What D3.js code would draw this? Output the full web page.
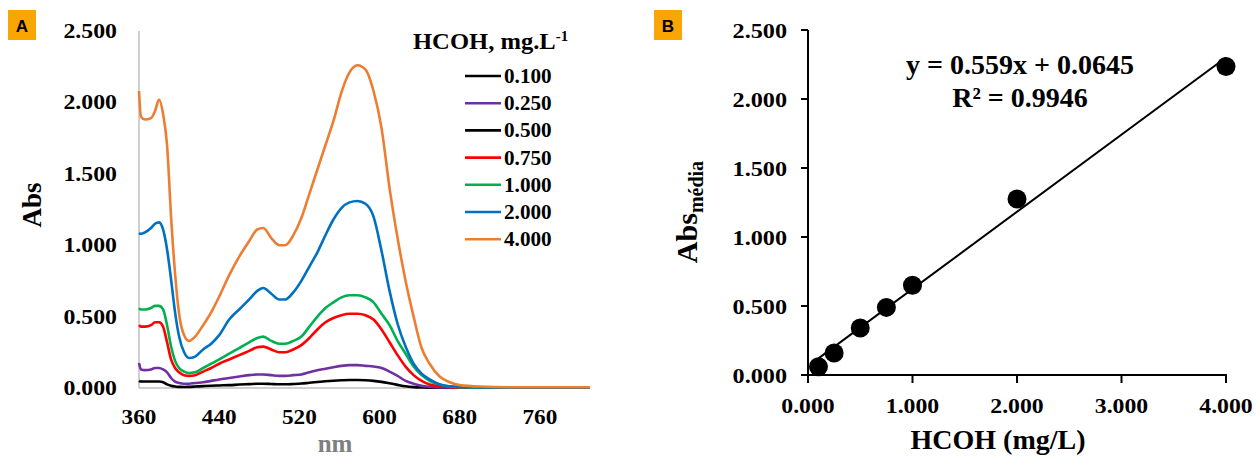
<!DOCTYPE html>
<html>
<head>
<meta charset="utf-8">
<script src="https://cdn.jsdelivr.net/npm/d3@7"></script>
<style>
  body { margin: 0; background: #fff; }
  svg { display: block; font-family: "Liberation Serif", "Times New Roman", serif; font-weight: bold; }
</style>
</head>
<body>
<div id="chart"></div>
<script>
// ---- Panel A data: UV-Vis spectra ----
const wavelengths = [360, 362, 366, 372, 376, 380, 384, 388, 392, 396, 400, 405, 410, 416, 424, 432, 440,
  450, 460, 470, 478, 484, 492, 500, 506, 514, 522, 530, 538, 546, 554, 562, 570, 578, 586, 594, 602,
  610, 618, 626, 634, 642, 650, 660, 670, 680, 700, 740, 780, 810];

const abs0100 = [0.05, 0.045, 0.045, 0.045, 0.046, 0.045, 0.04, 0.025, 0.015, 0.01, 0.008, 0.007, 0.008, 0.01, 0.013, 0.016, 0.018,
  0.02, 0.024, 0.027, 0.03, 0.03, 0.028, 0.026, 0.026, 0.028, 0.031, 0.037, 0.042, 0.047, 0.051, 0.054, 0.056, 0.056, 0.054, 0.05, 0.043,
  0.033, 0.022, 0.012, 0.006, 0.003, 0.002, 0.002, 0.002, 0.002, 0.002, 0.002, 0.002, 0.002];
const abs0250 = [0.175, 0.13, 0.125, 0.13, 0.14, 0.14, 0.13, 0.11, 0.07, 0.045, 0.035, 0.03, 0.03, 0.035, 0.04, 0.05, 0.06,
  0.07, 0.08, 0.09, 0.095, 0.095, 0.09, 0.085, 0.085, 0.09, 0.095, 0.11, 0.125, 0.135, 0.145, 0.155, 0.16, 0.16, 0.155, 0.15, 0.14,
  0.115, 0.085, 0.05, 0.03, 0.015, 0.008, 0.004, 0.003, 0.003, 0.003, 0.003, 0.003, 0.003];
// 0.500 mg/L curve is not visible in the figure (only in the legend)
const abs0500 = [];
const abs0750 = [0.44, 0.43, 0.43, 0.44, 0.46, 0.46, 0.43, 0.32, 0.20, 0.14, 0.11, 0.09, 0.085, 0.09, 0.115, 0.14, 0.17,
  0.20, 0.23, 0.26, 0.285, 0.29, 0.27, 0.25, 0.25, 0.27, 0.30, 0.35, 0.41, 0.46, 0.49, 0.51, 0.52, 0.52, 0.51, 0.48, 0.41,
  0.32, 0.23, 0.15, 0.09, 0.05, 0.025, 0.012, 0.006, 0.004, 0.003, 0.003, 0.003, 0.003];
const abs1000 = [0.56, 0.55, 0.55, 0.56, 0.575, 0.575, 0.55, 0.44, 0.29, 0.19, 0.14, 0.115, 0.105, 0.11, 0.14, 0.17, 0.20,
  0.24, 0.28, 0.32, 0.35, 0.36, 0.33, 0.31, 0.31, 0.33, 0.36, 0.43, 0.50, 0.56, 0.60, 0.635, 0.65, 0.65, 0.635, 0.60, 0.52,
  0.44, 0.33, 0.24, 0.15, 0.09, 0.05, 0.025, 0.01, 0.006, 0.004, 0.004, 0.004, 0.004];
const abs2000 = [1.085, 1.08, 1.09, 1.12, 1.15, 1.16, 1.11, 0.97, 0.76, 0.53, 0.36, 0.25, 0.21, 0.22, 0.27, 0.31, 0.37,
  0.48, 0.55, 0.62, 0.68, 0.70, 0.66, 0.62, 0.62, 0.67, 0.75, 0.85, 0.95, 1.07, 1.18, 1.26, 1.30, 1.31, 1.29, 1.20, 0.96,
  0.68, 0.45, 0.29, 0.17, 0.10, 0.06, 0.025, 0.012, 0.008, 0.005, 0.003, 0.003, 0.003];
const abs4000 = [2.08, 1.90, 1.88, 1.89, 1.94, 2.02, 1.92, 1.70, 1.20, 0.80, 0.52, 0.37, 0.33, 0.36, 0.44, 0.53, 0.64,
  0.79, 0.92, 1.03, 1.11, 1.12, 1.05, 1.00, 1.00, 1.07, 1.19, 1.36, 1.53, 1.70, 1.87, 2.07, 2.21, 2.26, 2.23, 2.08, 1.82,
  1.40, 1.05, 0.75, 0.50, 0.28, 0.17, 0.08, 0.04, 0.02, 0.01, 0.005, 0.005, 0.005];

const seriesLabels = ["0.100", "0.250", "0.500", "0.750", "1.000", "2.000", "4.000"];
const seriesValues = [abs0100, abs0250, abs0500, abs0750, abs1000, abs2000, abs4000];
const seriesColors = ["#000000", "#7030A0", "#000000", "#FF0000", "#00B050", "#0070C0", "#ED7D31"];

const nmTicks = [360, 440, 520, 600, 680, 760];
const absTicksA = [0, 0.5, 1.0, 1.5, 2.0, 2.5];

// ---- Panel B data: calibration curve ----
const concentrations = [0.1, 0.25, 0.5, 0.75, 1.0, 2.0, 4.0];
const absMean = [0.06, 0.16, 0.34, 0.49, 0.65, 1.275, 2.235];
const slope = 0.559;
const intercept = 0.0645;
const concTicks = [0, 1, 2, 3, 4];
const absTicksB = [0, 0.5, 1.0, 1.5, 2.0, 2.5];

const fmt = d3.format(".3f");

const svg = d3.select("#chart").append("svg").attr("width", 1256).attr("height", 457);
svg.append("rect").attr("width", 1256).attr("height", 457).attr("fill", "#fff");

// text that is a bit wider than the font, like the original figure
function wideText(g, x, y, str, anchor, size, sx) {
  return g
    .append("text")
    .attr("transform", `translate(${x},${y}) scale(${sx},1)`)
    .attr("text-anchor", anchor)
    .style("font-size", size + "px")
    .text(str);
}

// Panel tag (A / B)
function panelTag(x, y, letter) {
  svg.append("rect").attr("x", x).attr("y", y).attr("width", 28).attr("height", 30).attr("fill", "#F9A602");
  svg
    .append("text")
    .attr("x", x + 14)
    .attr("y", y + 21.5)
    .attr("text-anchor", "middle")
    .style("font-family", "'Liberation Sans', Arial, sans-serif")
    .style("font-size", "17px")
    .text(letter);
}

// =================== Panel A ===================
const gA = svg.append("g");
const xA = d3.scaleLinear().domain([360, 810]).range([139, 590]);
const yA = d3.scaleLinear().domain([0, 2.5]).range([388, 31]);

panelTag(8, 10, "A");

// axis lines (light gray, no ticks)
gA.append("line").attr("x1", xA(360)).attr("x2", xA(360)).attr("y1", yA(2.5)).attr("y2", yA(0))
  .attr("stroke", "#BFBFBF").attr("stroke-width", 1.5);
gA.append("line").attr("x1", xA(360)).attr("x2", xA(810)).attr("y1", yA(0)).attr("y2", yA(0))
  .attr("stroke", "#BFBFBF").attr("stroke-width", 1.5);

absTicksA.forEach((t) => wideText(gA, 117, yA(t) + 7, fmt(t), "end", 20, 1.19));
nmTicks.forEach((t) => wideText(gA, xA(t), 424, t, "middle", 20, 1.16));

gA.append("text")
  .attr("transform", `translate(41,205) rotate(-90)`)
  .attr("text-anchor", "middle")
  .style("font-size", "27px")
  .text("Abs");

gA.append("text")
  .attr("x", 335)
  .attr("y", 452)
  .attr("text-anchor", "middle")
  .attr("fill", "#808080")
  .style("font-size", "25px")
  .text("nm");

// spectra
const lineA = d3
  .line()
  .x((d) => xA(d[0]))
  .y((d) => yA(d[1]))
  .curve(d3.curveMonotoneX);

seriesValues.forEach((vals, i) => {
  if (!vals.length) return;
  const pts = vals.map((v, j) => [wavelengths[j], v]);
  gA.append("path")
    .attr("d", lineA(pts))
    .attr("fill", "none")
    .attr("stroke", seriesColors[i])
    .attr("stroke-width", 2.6)
    .attr("stroke-linejoin", "round");
});

// legend
const legTitle = gA
  .append("text")
  .attr("transform", "translate(413,49) scale(1.07,1)")
  .style("font-size", "23px");
legTitle.append("tspan").text("HCOH, mg.L");
legTitle.append("tspan").attr("dy", -8).style("font-size", "14px").text("-1");

seriesLabels.forEach((lab, i) => {
  const ly = 76 + i * 27.2;
  gA.append("line").attr("x1", 465).attr("x2", 501).attr("y1", ly).attr("y2", ly)
    .attr("stroke", seriesColors[i]).attr("stroke-width", 2.6);
  wideText(gA, 504, ly + 7, lab, "start", 20, 1.06);
});

// =================== Panel B ===================
const gB = svg.append("g");
const xB = d3.scaleLinear().domain([0, 4]).range([808, 1226]);
const yB = d3.scaleLinear().domain([0, 2.5]).range([375, 30]);

panelTag(654, 10, "B");

gB.append("line").attr("x1", xB(0)).attr("x2", xB(0)).attr("y1", yB(2.5)).attr("y2", yB(0) + 1)
  .attr("stroke", "#000").attr("stroke-width", 2);
gB.append("line").attr("x1", xB(0) - 1).attr("x2", xB(4) + 1).attr("y1", yB(0)).attr("y2", yB(0))
  .attr("stroke", "#000").attr("stroke-width", 2);

absTicksB.forEach((t) => {
  gB.append("line").attr("x1", xB(0) - 7).attr("x2", xB(0)).attr("y1", yB(t)).attr("y2", yB(t))
    .attr("stroke", "#000").attr("stroke-width", 2);
  wideText(gB, 787, yB(t) + 7.5, fmt(t), "end", 22, 1.1);
});
concTicks.forEach((t) => {
  gB.append("line").attr("x1", xB(t)).attr("x2", xB(t)).attr("y1", yB(0)).attr("y2", yB(0) + 8)
    .attr("stroke", "#000").attr("stroke-width", 2);
  wideText(gB, xB(t), 413, fmt(t), "middle", 22, 1.08);
});

// axis titles
gB.append("text")
  .attr("x", 998)
  .attr("y", 449)
  .attr("text-anchor", "middle")
  .style("font-size", "28px")
  .text("HCOH (mg/L)");

const yTitleB = gB
  .append("text")
  .attr("transform", "translate(697,212) rotate(-90)")
  .attr("text-anchor", "middle")
  .style("font-size", "30px");
yTitleB.append("tspan").text("Abs");
yTitleB.append("tspan").attr("dy", 6).style("font-size", "20px").text("média");

// trendline
const xFit = [d3.min(concentrations), d3.max(concentrations)];
gB.append("line")
  .attr("x1", xB(xFit[0]))
  .attr("y1", yB(slope * xFit[0] + intercept))
  .attr("x2", xB(xFit[1]))
  .attr("y2", yB(slope * xFit[1] + intercept))
  .attr("stroke", "#000")
  .attr("stroke-width", 2);

// points
gB.selectAll("circle.pt")
  .data(concentrations)
  .join("circle")
  .attr("class", "pt")
  .attr("cx", (d) => xB(d))
  .attr("cy", (d, i) => yB(absMean[i]))
  .attr("r", 9.5)
  .attr("fill", "#000");

// equation
gB.append("text").attr("x", 1020).attr("y", 74).attr("text-anchor", "middle").style("font-size", "28px")
  .text(`y = ${slope}x + ${intercept}`);
gB.append("text").attr("x", 1020).attr("y", 107).attr("text-anchor", "middle").style("font-size", "28px")
  .text("R² = 0.9946");
</script>
</body>
</html>
